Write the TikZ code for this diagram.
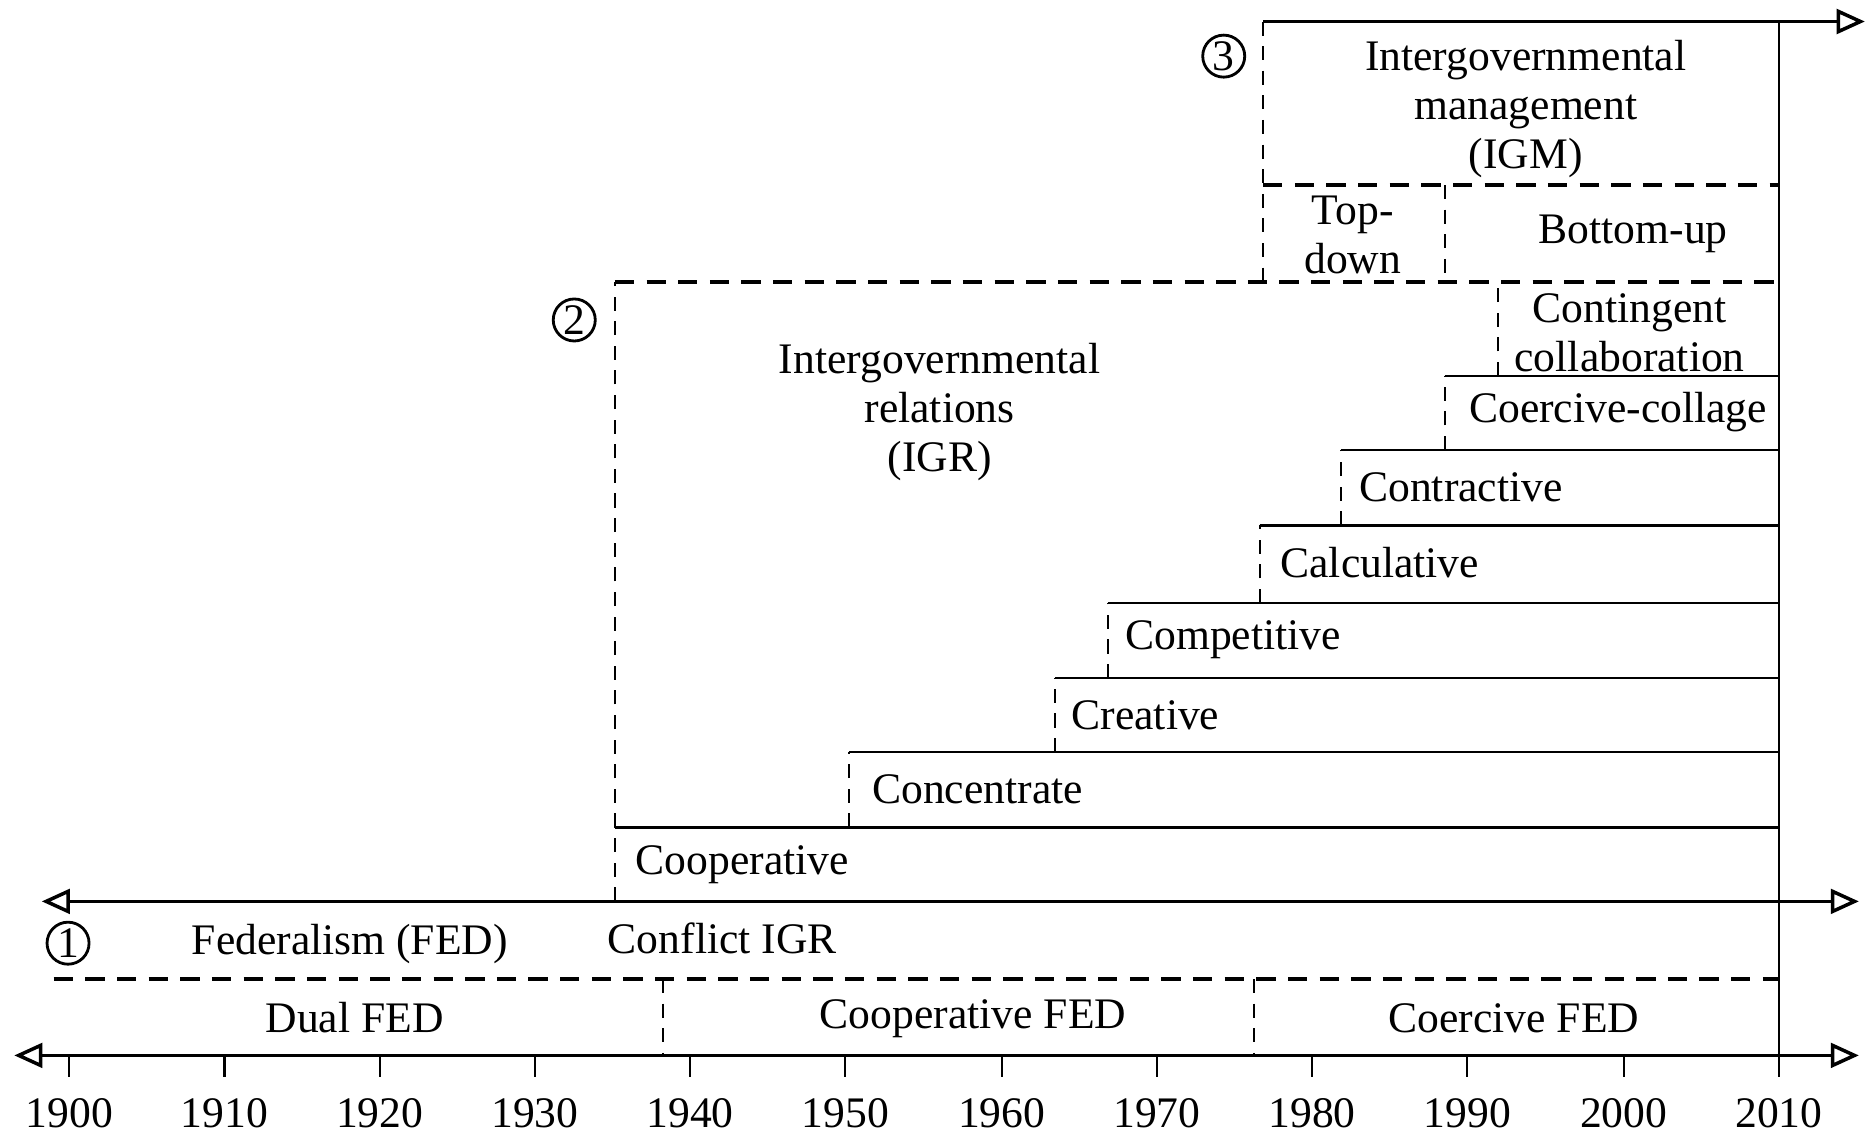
\documentclass[tikz,border=0pt]{standalone}
\usepackage{fontspec}
\setmainfont{Liberation Serif}
\usetikzlibrary{arrows.meta}

\begin{document}
\begin{tikzpicture}[%
	x=0.011939cm, y=-0.011939cm,
	every node/.style = {font=\fontsize{12.4pt}{13.9pt}\selectfont, inner sep=1pt, align=center},
	circnum/.style={circle, draw, line width=0.8pt, inner sep=0pt, minimum size=0.42cm},
	steplabel/.style={anchor=west},
	axisline/.style={line width=0.9pt},
	hdash/.style={line width=1pt, dash pattern=on 5.5pt off 3.5pt},
	vdash/.style={line width=0.6pt, dash pattern=on 4pt off 3pt},
	stepline/.style={line width=0.7pt},
	>={Triangle[open,length=8pt,width=7pt,line width=1pt]}
	]
  \useasboundingbox (0,0) rectangle (1568,951);
  % axes
  \draw [axisline,<->] (12,884) -- (1557,884);
  \draw [axisline,<->] (35,755) -- (1557,755);
  \draw [axisline,->] (1058,18) -- (1562,18);
  \draw [line width=0.6pt] (1490,18) -- (1490,902);
  \draw [line width=0.6pt] (58,884) -- ++(0,18) (188,884) -- ++(0,18) (318,884) -- ++(0,18)
    (448,884) -- ++(0,18) (578,884) -- ++(0,18) (708,884) -- ++(0,18) (839,884) -- ++(0,18)
    (969,884) -- ++(0,18) (1099,884) -- ++(0,18) (1229,884) -- ++(0,18) (1360,884) -- ++(0,18);
  \node (y1900) at (58,932) {1900};
  \node (y1910) at (188,932) {1910};
  \node (y1920) at (318,932) {1920};
  \node (y1930) at (448,932) {1930};
  \node (y1940) at (578,932) {1940};
  \node (y1950) at (708,932) {1950};
  \node (y1960) at (839,932) {1960};
  \node (y1970) at (969,932) {1970};
  \node (y1980) at (1099,932) {1980};
  \node (y1990) at (1229,932) {1990};
  \node (y2000) at (1360,932) {2000};
  \node (y2010) at (1490,932) {2010};

  % federalism
  \draw [hdash] (45,820) -- (1490,820);
  \draw [vdash] (555,820) -- (555,884);
  \draw [vdash] (1050,820) -- (1050,884);
  \node [circnum] (n1) at (57,790) {1};
  \node (fed) at (293,791) {Federalism (FED)};
  \node (conflict) at (605,786) {Conflict IGR};
  \node (dual) at (297,852) {Dual FED};
  \node (coopfed) at (815,853) {Cooperative FED};
  \node (coerfed) at (1268,853) {Coercive FED};

  % intergovernmental relations
  \draw [vdash] (515,755) -- (515,236);
  \draw [hdash] (515,236) -- (1490,236);
  \node [circnum] (n2) at (481,268) {2};
  \node (igr) at (787,345) {Intergovernmental\\relations\\(IGR)};
  \draw [stepline] (515,693) -- (1490,693);
  \draw [vdash] (711,693) -- (711,630);
  \draw [stepline] (711,630) -- (1490,630);
  \draw [vdash] (884,630) -- (884,568);
  \draw [stepline] (884,568) -- (1490,568);
  \draw [vdash] (928,568) -- (928,505);
  \draw [stepline] (928,505) -- (1490,505);
  \draw [vdash] (1055,505) -- (1055,440);
  \draw [stepline] (1055,440) -- (1490,440);
  \draw [vdash] (1123,440) -- (1123,377);
  \draw [stepline] (1123,377) -- (1490,377);
  \draw [vdash] (1210,377) -- (1210,315);
  \draw [stepline] (1210,315) -- (1490,315);
  \draw [vdash] (1255,315) -- (1255,236);
  \node [steplabel] (coop) at (529,724) {Cooperative};
  \node [steplabel] (conc) at (727,661) {Concentrate};
  \node [steplabel] (crea) at (894,599) {Creative};
  \node [steplabel] (comp) at (939,536) {Competitive};
  \node [steplabel] (calc) at (1069,471) {Calculative};
  \node [steplabel] (contr) at (1135,408) {Contractive};
  \node [steplabel] (coerc) at (1227,345) {Coercive-collage};
  \node (conting) at (1365,279) {Contingent\\collaboration};

  % intergovernmental management
  \draw [vdash] (1058,18) -- (1058,236);
  \draw [hdash] (1058,155) -- (1490,155);
  \draw [vdash] (1210,155) -- (1210,236);
  \node [circnum] (n3) at (1025,47) {3};
  \node (igm) at (1278,91) {Intergovernmental\\management\\(IGM)};
  \node (topdown) at (1133,197) {Top-\\down};
  \node (bottomup) at (1368,196) {Bottom-up};
\end{tikzpicture}
\end{document}
